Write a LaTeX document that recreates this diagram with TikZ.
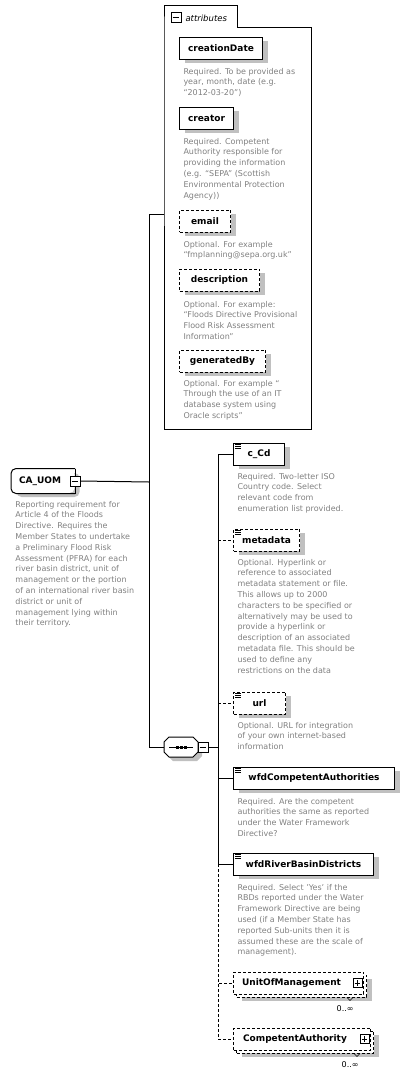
\documentclass[tikz,border=0pt]{standalone}
\usepackage{fontspec}
\setmainfont{DejaVu Sans}[ItalicFont={DejaVu Sans Oblique}, BoldFont={DejaVu Sans Bold}]
\usetikzlibrary{shadows}
\definecolor{descgray}{RGB}{128,128,128}
\definecolor{shadowgray}{RGB}{192,192,192}
\newcommand\descfont{\fontsize{8}{10.8}\selectfont}
\newcommand\elemfont{\fontsize{9}{11}\selectfont\bfseries}

\begin{document}
\begin{tikzpicture}[
    x=1pt, y=-1pt, line width=1pt,
    optline/.style={dash pattern=on 3pt off 2pt},
    shade/.style={general shadow={fill=shadowgray, shadow xshift=5pt, shadow yshift=-4pt}},
    box/.style={draw, fill=white, anchor=west, font=\elemfont, minimum height=22pt, inner xsep=6pt, inner ysep=0pt},
    elem/.style={box, shade},
    optelem/.style={elem, optline},
    rootelem/.style={elem, draw=none, rounded corners=5pt, minimum height=24pt},
    desc/.style={anchor=north west, yshift=7.56pt, align=left, font=\descfont, text=descgray, inner sep=0pt,
        execute at begin node=\strut},
    btn/.style={draw, fill=white, minimum size=10pt, inner sep=0pt, line width=0.8pt},
    occurs/.style={anchor=base east, font=\descfont, inner sep=0pt},
]
\useasboundingbox (0,0) rectangle (408,1076);

% attributes group
\draw (164,27) -- (164,5) -- (237,5) -- (237,27) -- (311,27) -- (311,429) -- (164,429) -- cycle;
\node[btn] (attrbtn) at (176,17) {};
\node[anchor=base west, inner sep=0pt, font=\fontsize{8.5}{10}\selectfont\itshape] (attrlbl) at (185,21) {attributes};
\coordinate (attrin) at (164,214);

\node[elem, minimum width=83pt] (cdate) at (179,48) {creationDate};
\node[desc] (cdate-d) at (183,75) {Required. To be provided as\\year, month, date (e.g.\\“2012-03-20”)};

\node[elem, minimum width=54pt] (creator) at (179,118) {creator};
\node[desc] (creator-d) at (183,145) {Required. Competent\\Authority responsible for\\providing the information\\(e.g. “SEPA” (Scottish\\Environmental Protection\\Agency))};

\node[optelem, minimum width=51pt] (email) at (179,221) {email};
\node[desc] (email-d) at (183,248) {Optional. For example\\“fmplanning@sepa.org.uk”};

\node[optelem, minimum width=80pt] (descr) at (179,280) {description};
\node[desc] (descr-d) at (183,308) {Optional. For example:\\“Floods Directive Provisional\\Flood Risk Assessment\\Information”};

\node[optelem, minimum width=86pt] (genby) at (179,361) {generatedBy};
\node[desc] (genby-d) at (183,387) {Optional. For example “\\Through the use of an IT\\database system using\\Oracle scripts”};

% root element
\node[rootelem, minimum width=63pt] (uom) at (11,481) {CA\_UOM\hspace*{6pt}};
\draw[rounded corners=5pt] (uom.north east) -- (uom.north west) -- (uom.south west) -- (uom.south east);
\draw (uom.north east) -- (uom.south east);
\node[btn] (uombtn) at (uom.east) {};
\node[desc] (uom-d) at (15,508) {Reporting requirement for\\Article 4 of the Floods\\Directive. Requires the\\Member States to undertake\\a Preliminary Flood Risk\\Assessment (PFRA) for each\\river basin district, unit of\\management or the portion\\of an international river basin\\district or unit of\\management lying within\\their territory.};

\coordinate (rbus-top) at (149,214);
\coordinate (rbus) at (149,482);
\coordinate (rbus-bot) at (149,747);

% sequence
\node[minimum width=34pt, minimum height=20pt, inner sep=0pt] (seq) at (181,747) {};
\fill[shadowgray, xshift=4pt, yshift=-4pt] (169,737) -- (193,737) -- (198,742) -- (198,752) -- (193,757) -- (169,757) -- (164,752) -- (164,742) -- cycle;
\draw[fill=white] (169,737) -- (193,737) -- (198,742) -- (198,752) -- (193,757) -- (169,757) -- (164,752) -- (164,742) -- cycle;
\draw[line width=0.8pt] (169,747) -- (193,747);
\foreach \dx in {177,181,185}
    \fill (\dx-1.5,745.5) rectangle ++(3,3);
\node[btn] (seqbtn) at (203,747) {};
\coordinate (sbus) at (218,747);

% sequence children
\node[elem, minimum width=51pt] (cd) at (233,454) {c\_Cd};
\node[desc] (cd-d) at (237,480) {Required. Two-letter ISO\\Country code. Select\\relevant code from\\enumeration list provided.};

\node[optelem, minimum width=66pt] (meta) at (233,540) {metadata};
\node[desc] (meta-d) at (237,566) {Optional. Hyperlink or\\reference to associated\\metadata statement or file.\\This allows up to 2000\\characters to be specified or\\alternatively may be used to\\provide a hyperlink or\\description of an associated\\metadata file. This should be\\used to define any\\restrictions on the data};

\node[optelem, minimum width=52pt] (url) at (233,703) {url};
\node[desc] (url-d) at (237,729) {Optional. URL for integration\\of your own internet-based\\information};

\node[elem, minimum width=161pt] (wca) at (233,778) {wfdCompetentAuthorities};
\node[desc] (wca-d) at (237,805) {Required. Are the competent\\authorities the same as reported\\under the Water Framework\\Directive?};

\node[elem, minimum width=140pt] (wrbd) at (233,864) {wfdRiverBasinDistricts};
\node[desc] (wrbd-d) at (237,891) {Required. Select 'Yes' if the\\RBDs reported under the Water\\Framework Directive are being\\used (if a Member State has\\reported Sub-units then it is\\assumed these are the scale of\\management).};

% repeated elements: back copy, then front
\node[box, optline, shade, minimum width=130pt] (unit-bk) at (236,986) {};
\node[box, optline, minimum width=130pt] (unit) at (233,983) {UnitOfManagement\hspace*{14pt}};
\node[btn, minimum size=9pt] (unitbtn) at ([xshift=-6.5pt]unit.east) {};
\draw[line width=0.6pt] ([xshift=-20pt]unit-bk.south east) -- ++(3,3) -- ++(3,-3);
\node[occurs] (unit-occ) at (354,1011) {0..∞};

\node[box, optline, shade, minimum width=137pt] (cauth-bk) at (236,1042) {};
\node[box, optline, minimum width=137pt] (cauth) at (233,1039) {CompetentAuthority\hspace*{14pt}};
\node[btn, minimum size=9pt] (cauthbtn) at ([xshift=-6.5pt]cauth.east) {};
\draw[line width=0.6pt] ([xshift=-20pt]cauth-bk.south east) -- ++(3,3) -- ++(3,-3);
\node[occurs] (cauth-occ) at (359,1067) {0..∞};

% simple type marks
\foreach \n in {cd,meta,url,wca,wrbd}
    \foreach \dy in {2,4,6}
        \draw[line width=0.6pt] ([shift={(2,\dy)}]\n.north west) -- ++(6,0);

% button glyphs
\foreach \b in {attrbtn,uombtn,seqbtn,unitbtn,cauthbtn}
    \draw[line width=0.8pt] ([xshift=2pt]\b.west) -- ([xshift=-2pt]\b.east);
\foreach \b in {unitbtn,cauthbtn}
    \draw[line width=0.8pt] ([yshift=2pt]\b.south) -- ([yshift=-2pt]\b.north);

% connectors
\draw (uombtn.east) -- (rbus);
\draw (attrin) -- (rbus-top) -- (rbus-bot) -- (seq.west);
\draw (seqbtn.east) -- (sbus);
\draw (sbus) |- (cd.west);
\draw (sbus) |- (wca.west);
\draw (sbus) |- (wrbd.west);
\draw[optline] (meta.west -| sbus) -- (meta.west);
\draw[optline] (url.west -| sbus) -- (url.west);
\draw[optline] (wrbd.west -| sbus) |- (unit.west);
\draw[optline] (wrbd.west -| sbus) |- (cauth.west);

\end{tikzpicture}
\end{document}
